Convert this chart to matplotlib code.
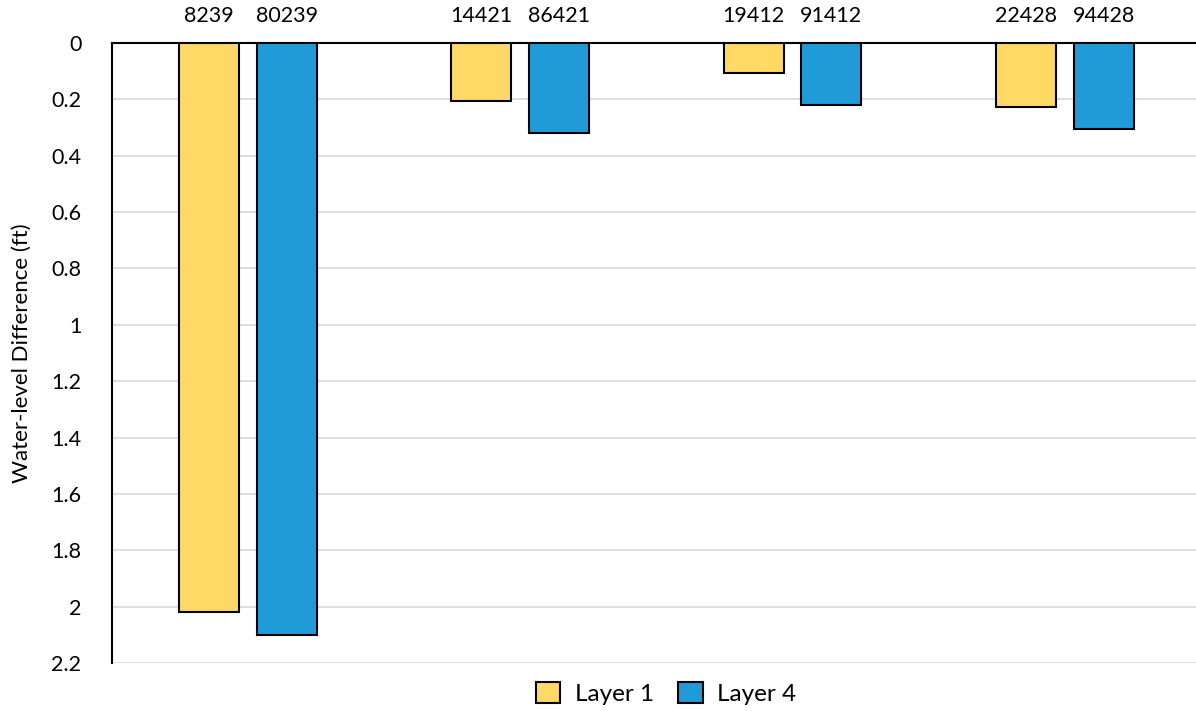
import numpy as np
import matplotlib
matplotlib.use("Agg")
import matplotlib.pyplot as plt

plt.rcParams['font.family'] = ['Lato', 'DejaVu Sans']

# well pairs: layer 1 id / layer 4 id
layer1_ids = ['8239', '14421', '19412', '22428']
layer4_ids = ['80239', '86421', '91412', '94428']
layer1_vals = [2.02, 0.205, 0.106, 0.227]
layer4_vals = [2.10, 0.319, 0.22, 0.305]

yellow = '#FFD966'
blue = '#1F9BD7'

fig = plt.figure(figsize=(11.96, 7.11), dpi=100)
ax = fig.add_axes([112/1196, 48/711, 1 - 112/1196 + 0.004, 620/711])

x = np.arange(len(layer1_ids))
w = 0.22
off = 0.143
b1 = ax.bar(x - off, layer1_vals, w, color=yellow, edgecolor='black', linewidth=1.5, label='Layer 1', zorder=3)
b4 = ax.bar(x + off, layer4_vals, w, color=blue, edgecolor='black', linewidth=1.5, label='Layer 4', zorder=3)

ax.set_ylim(2.2, 0)
ax.set_xlim(-0.5, len(x) - 0.5)
ax.set_yticks(np.arange(0, 2.21, 0.2))
ax.set_yticklabels(['0', '0.2', '0.4', '0.6', '0.8', '1', '1.2', '1.4', '1.6', '1.8', '2', '2.2'])
ax.yaxis.grid(True, color='#d9d9d9', linewidth=1.2, zorder=0)
ax.tick_params(axis='y', length=0, pad=22, labelsize=15.5)

# ids along the top
pos = np.concatenate([x - off, x + off])
ax.set_xticks(pos)
ax.set_xticklabels(layer1_ids + layer4_ids)
ax.xaxis.tick_top()
ax.tick_params(axis='x', length=0, pad=12, labelsize=15.5)

for s in ['right', 'bottom']:
    ax.spines[s].set_visible(False)
ax.spines['left'].set_linewidth(1.5)
ax.spines['top'].set_linewidth(1.5)

ax.set_ylabel('Water-level Difference (ft)', fontsize=16)
ax.yaxis.set_label_coords(-0.074, 0.5)

fig.legend(handles=[b1, b4], loc='lower center', bbox_to_anchor=(0.557, -0.022), ncol=2,
           frameon=False, fontsize=17.5, handlelength=1.0, handleheight=1.0, columnspacing=1.0,
           handletextpad=0.6)

plt.savefig('out.png', dpi=100)
